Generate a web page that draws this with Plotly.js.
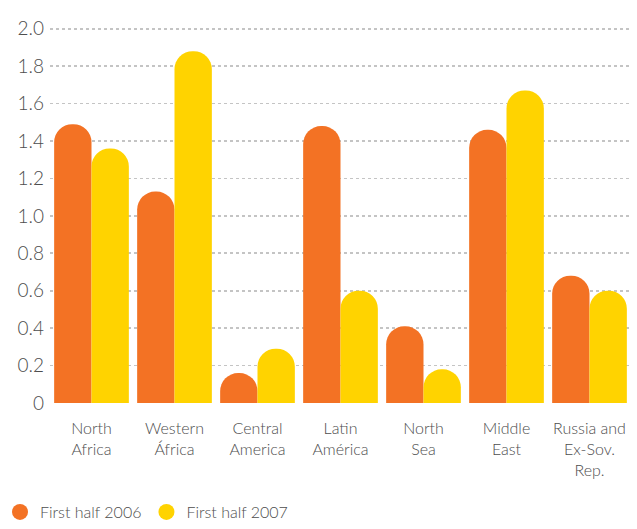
<!DOCTYPE html>
<html>
<head>
<meta charset="utf-8">
<script src="https://cdn.plot.ly/plotly-3.0.1.min.js"></script>
<style>html,body{margin:0;padding:0;background:#fff;}#chart{width:637px;height:529px;}</style>
</head>
<body>
<div id="chart"></div>
<script>
const categories = ["North<br>Africa", "Western<br>África", "Central<br>America", "Latin<br>América", "North<br>Sea", "Middle<br>East", "Russia and<br>Ex-Sov.<br>Rep."];
const series2006 = [1.49, 1.13, 0.16, 1.48, 0.41, 1.46, 0.68];
const series2007 = [1.36, 1.88, 0.29, 0.60, 0.18, 1.67, 0.60];
const seriesNames = ["First half 2006", "First half 2007"];
const yTickVals = [0, 0.2, 0.4, 0.6, 0.8, 1.0, 1.2, 1.4, 1.6, 1.8, 2.0];
const yTickText = ["0", "0.2", "0.4", "0.6", "0.8", "1.0", "1.2", "1.4", "1.6", "1.8", "2.0"];

const colors = ["#F37224", "#FFD300"];
const font = "Lato, 'Open Sans', sans-serif";

const data = [
  {type: "bar", x: categories, y: series2006, name: seriesNames[0], marker: {color: colors[0], cornerradius: "50%"}, showlegend: false, hoverinfo: "y"},
  {type: "bar", x: categories, y: series2007, name: seriesNames[1], marker: {color: colors[1], cornerradius: "50%"}, showlegend: false, hoverinfo: "y"},
  {type: "scatter", mode: "markers", x: [null], y: [null], name: seriesNames[0], marker: {color: colors[0], size: 16, symbol: "circle"}},
  {type: "scatter", mode: "markers", x: [null], y: [null], name: seriesNames[1], marker: {color: colors[1], size: 16, symbol: "circle"}}
];

const layout = {
  width: 637, height: 529,
  margin: {l: 50, r: 6, t: 25, b: 126},
  paper_bgcolor: "#fff", plot_bgcolor: "#fff",
  font: {family: font, color: "#4d4d4d", size: 16, weight: 300},
  barmode: "group", bargap: 0.1, bargroupgap: 0,
  xaxis: {
    type: "category", range: [-0.5, 6.5],
    showgrid: false, zeroline: false, showline: false, ticks: "",
    ticklabelstandoff: 14,
    tickfont: {family: font, size: 16, color: "#4d4d4d", weight: 300}
  },
  yaxis: {
    range: [0, 2.02], tickvals: yTickVals, ticktext: yTickText,
    showgrid: true, gridcolor: "#c4c4c4", griddash: "dot", gridwidth: 1.8,
    zeroline: false, showline: false, ticks: "", ticklabelstandoff: 5,
    tickfont: {family: font, size: 19, color: "#4d4d4d", weight: 300}
  },
  legend: {
    orientation: "h", xref: "container", x: -0.018, xanchor: "left",
    yref: "container", y: -0.022, yanchor: "bottom",
    font: {family: font, size: 16, color: "#4d4d4d", weight: 300}, itemwidth: 30, traceorder: "normal"
  },
  showlegend: true
};

Plotly.newPlot("chart", data, layout, {displayModeBar: false, staticPlot: true});
</script>
</body>
</html>
